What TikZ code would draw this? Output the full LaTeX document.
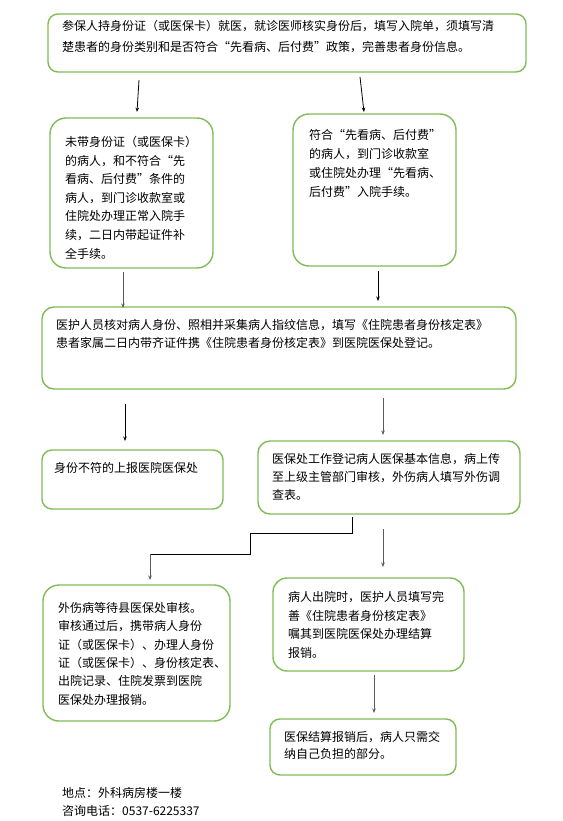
\documentclass[tikz,border=0pt]{standalone}
\usepackage{fontspec}
\setmainfont{Noto Sans CJK SC}
\usetikzlibrary{arrows.meta}
\definecolor{boxgreen}{RGB}{128,188,86}
\definecolor{arrgray}{RGB}{90,90,90}
\tikzset{
  flowbox/.style={draw=boxgreen, line width=1.4pt, fill=white, inner sep=0pt},
  flowtxt/.style={anchor=north west, align=left, inner sep=0pt, font=\fontsize{12}{#1}\selectfont},
  flowtxt/.default=18.5,
  arr/.style={-{Stealth[length=4.5pt,width=3.5pt]}, line width=0.8pt, black},
  garr/.style={arr, arrgray},
}
\begin{document}
\begin{tikzpicture}[x=1pt,y=-1pt]
\useasboundingbox (0,0) rectangle (562,821);
% boxes
\node[flowbox, rounded corners=10pt, minimum width=478pt, minimum height=58pt] (b1) at (287,43) {};
\node[flowbox, rounded corners=16pt, minimum width=163pt, minimum height=150pt] (b2) at (131.5,193) {};
\node[flowbox, rounded corners=16pt, minimum width=163pt, minimum height=152pt] (b3) at (374.5,190) {};
\node[flowbox, rounded corners=12pt, minimum width=474pt, minimum height=82pt] (b4) at (279,348) {};
\node[flowbox, rounded corners=10pt, minimum width=181pt, minimum height=59pt] (b5) at (132.5,479.5) {};
\node[flowbox, rounded corners=12pt, minimum width=262pt, minimum height=73pt] (b6) at (389,477.5) {};
\node[flowbox, rounded corners=16pt, minimum width=187pt, minimum height=136pt] (b7) at (136.5,653) {};
\node[flowbox, rounded corners=14pt, minimum width=191pt, minimum height=93pt] (b8) at (368.5,624.5) {};
\node[flowbox, rounded corners=10pt, minimum width=186pt, minimum height=56pt] (b9) at (363,747) {};
% texts
\node[flowtxt=21] (t1) at (62,20) {参保人持身份证（或医保卡）就医，就诊医师核实身份后，填写入院单，须填写清\\楚患者的身份类别和是否符合“先看病、后付费”政策，完善患者身份信息。};
\node[flowtxt=18.6] (t2) at (65,136) {未带身份证（或医保卡）\\的病人，和不符合“先\\看病、后付费”条件的\\病人，到门诊收款室或\\住院处办理正常入院手\\续，二日内带起证件补\\全手续。};
\node[flowtxt=19] (t3) at (309,129) {符合“先看病、后付费”\\的病人，到门诊收款室\\或住院处办理“先看病、\\后付费”入院手续。};
\node[flowtxt=18] (t4) at (56,319) {医护人员核对病人身份、照相并采集病人指纹信息，填写《住院患者身份核定表》\\患者家属二日内带齐证件携《住院患者身份核定表》到医院医保处登记。};
\node[flowtxt] (t5) at (54,462) {身份不符的上报医院医保处};
\node[flowtxt=18] (t6) at (272,453) {医保处工作登记病人医保基本信息，病上传\\至上级主管部门审核，外伤病人填写外伤调\\查表。};
\node[flowtxt=18.4] (t7) at (58,602) {外伤病等待县医保处审核。\\审核通过后，携带病人身份\\证（或医保卡）、办理人身份\\证（或医保卡）、身份核定表、\\出院记录、住院发票到医院\\医保处办理报销。};
\node[flowtxt=18.8] (t8) at (288,591) {病人出院时，医护人员填写完\\善《住院患者身份核定表》\\嘱其到医院医保处办理结算\\报销。};
\node[flowtxt=17] (t9) at (284,731) {医保结算报销后，病人只需交\\纳自己负担的部分。};
\node[flowtxt=18] (t10) at (62,787) {地点：外科病房楼一楼\\咨询电话：0537-6225337};
% arrow end points
\coordinate (a1s) at (139,80);  \coordinate (a1e) at (137,112);
\coordinate (a2s) at (360,77);  \coordinate (a2e) at (364,112);
\coordinate (a3s) at (123,272); \coordinate (a3e) at (123,308);
\coordinate (a4s) at (378,271); \coordinate (a4e) at (378,301);
\coordinate (a5s) at (125,404); \coordinate (a5e) at (125,441);
\coordinate (a6s) at (383,398); \coordinate (a6e) at (383,435);
\coordinate (a7s) at (352,517); \coordinate (a7m) at (150,554); \coordinate (a7e) at (150,580);
\coordinate (a8s) at (383,529); \coordinate (a8e) at (383,567);
\coordinate (a9s) at (374,675); \coordinate (a9e) at (374,713);
% arrows
\draw[arr] (a1s) -- (a1e);
\draw[arr] (a2s) -- (a2e);
\draw[garr] (a3s) -- (a3e);
\draw[arr] (a4s) -- (a4e);
\draw[arr] (a5s) -- (a5e);
\draw[garr] (a6s) -- (a6e);
\draw[line width=0.8pt] (a7s) -- (352,533) -- (250,533) -- (250,554) -- (a7m);
\draw[garr] (a7m) -- (a7e);
\draw[garr] (a8s) -- (a8e);
\draw[garr] (a9s) -- (a9e);
\end{tikzpicture}
\end{document}
